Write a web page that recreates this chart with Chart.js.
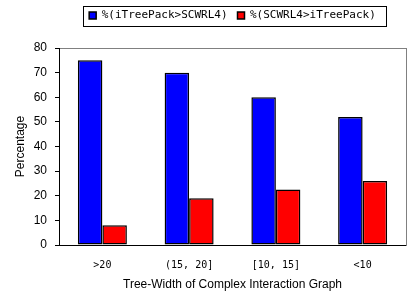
<!DOCTYPE html>
<html>
<head>
<meta charset="utf-8">
<script src="https://cdn.jsdelivr.net/npm/chart.js@4/dist/chart.umd.min.js"></script>
<style>
  html, body { margin: 0; padding: 0; background: #fff; }
  #wrap { width: 414px; height: 305px; }
</style>
</head>
<body>
<div id="wrap"><canvas id="treeChart" width="414" height="305"></canvas></div>
<script>
// data
const categories = [">20", "(15, 20]", "[10, 15]", "<10"];
const seriesNames = ["%(iTreePack>SCWRL4)", "%(SCWRL4>iTreePack)"];
const betterITreePack = [75, 70, 60, 52];
const betterSCWRL4 = [8, 19, 22.5, 26];
const yTicks = [0, 10, 20, 30, 40, 50, 60, 70, 80];

const monoFont = "'DejaVu Sans Mono', monospace";
const sansFont = "'Liberation Sans', Arial, sans-serif";

// frame around the legend items
const legendFrame = {
  id: "legendFrame",
  afterDraw(chart) {
    const boxes = chart.legend && chart.legend.legendHitBoxes;
    if (!boxes || !boxes.length) return;
    const first = boxes[0];
    const last = boxes[boxes.length - 1];
    const cy = first.top + first.height / 2;
    const x0 = Math.round(first.left - 6) + 0.5;
    const x1 = Math.round(last.left + last.width + 10) + 0.5;
    const ctx = chart.ctx;
    ctx.save();
    ctx.strokeStyle = "#000";
    ctx.lineWidth = 1;
    ctx.strokeRect(x0, Math.round(cy - 10) + 0.5, x1 - x0, 20);
    ctx.restore();
  },
};

const ctx = document.getElementById("treeChart").getContext("2d");
const chart = new Chart(ctx, {
  type: "bar",
  data: {
    labels: categories,
    datasets: [
      {
        label: seriesNames[0],
        data: betterITreePack,
        backgroundColor: "#0000ff",
        borderColor: "#000",
        borderWidth: 1.5,
        borderSkipped: false,
        categoryPercentage: 0.565,
        barPercentage: 1.0,
      },
      {
        label: seriesNames[1],
        data: betterSCWRL4,
        backgroundColor: "#ff0000",
        borderColor: "#000",
        borderWidth: 1.5,
        borderSkipped: false,
        categoryPercentage: 0.565,
        barPercentage: 1.0,
      },
    ],
  },
  options: {
    responsive: false,
    animation: false,
    layout: { padding: { top: 0, left: 0, right: 0, bottom: 0 } },
    plugins: {
      tooltip: { enabled: false },
      legend: {
        position: "top",
        fullSize: false,
        labels: {
          boxWidth: 7,
          boxHeight: 7,
          padding: 10,
          color: "#000",
          font: { family: monoFont, size: 11 },
        },
      },
    },
    scales: {
      x: {
        type: "category",
        position: "bottom",
        grid: { display: false, drawTicks: false },
        border: { display: true, color: "#000", width: 1 },
        ticks: { color: "#000", padding: 14, font: { family: monoFont, size: 10 } },
        title: {
          display: true,
          text: "Tree-Width of Complex Interaction Graph",
          color: "#000",
          font: { family: sansFont, size: 12 },
          padding: { top: 0, bottom: 13 },
        },
        afterFit: (scale) => { scale.height = 60; },
      },
      xTop: {
        type: "category",
        position: "top",
        grid: { display: false, drawTicks: false },
        border: { display: true, color: "#808080", width: 1 },
        ticks: { display: false },
        afterFit: (scale) => { scale.height = 17; },
      },
      y: {
        type: "linear",
        position: "left",
        min: 0,
        max: 80,
        afterBuildTicks: (scale) => { scale.ticks = yTicks.map((v) => ({ value: v })); },
        grid: { drawOnChartArea: false, drawTicks: true, tickLength: 4, color: "#000" },
        border: { display: true, color: "#000", width: 1 },
        ticks: { color: "#000", padding: 8, font: { family: sansFont, size: 12 } },
        title: {
          display: true,
          text: "Percentage",
          color: "#000",
          font: { family: sansFont, size: 12 },
          padding: { top: 13, bottom: 0 },
        },
        afterFit: (scale) => { scale.width = 59; },
      },
      yRight: {
        type: "linear",
        position: "right",
        min: 0,
        max: 80,
        grid: { display: false, drawTicks: false },
        border: { display: true, color: "#808080", width: 1 },
        ticks: { display: false },
        afterFit: (scale) => { scale.width = 8; },
      },
    },
  },
  plugins: [legendFrame],
});
</script>
</body>
</html>
